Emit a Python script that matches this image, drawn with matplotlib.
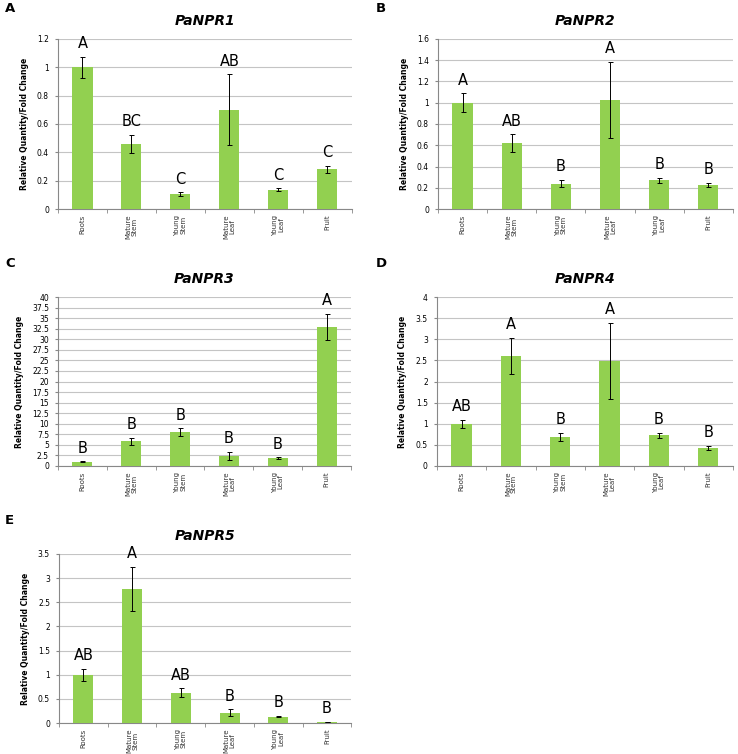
import matplotlib.pyplot as plt
import numpy as np

# tissue categories (shared by all panels)
tissues = ['Roots', 'Mature\nStem', 'Young\nStem', 'Mature\nLeaf', 'Young\nLeaf', 'Fruit']

# PaNPR1
npr1_mean = [1.0, 0.46, 0.105, 0.70, 0.137, 0.28]
npr1_err = [0.075, 0.065, 0.012, 0.25, 0.01, 0.025]
npr1_sig = ['A', 'BC', 'C', 'AB', 'C', 'C']

# PaNPR2
npr2_mean = [1.0, 0.62, 0.24, 1.025, 0.27, 0.225]
npr2_err = [0.09, 0.085, 0.037, 0.36, 0.022, 0.02]
npr2_sig = ['A', 'AB', 'B', 'A', 'B', 'B']

# PaNPR3
npr3_mean = [1.0, 5.8, 8.0, 2.45, 1.9, 32.9]
npr3_err = [0.12, 0.85, 0.95, 0.95, 0.15, 3.15]
npr3_sig = ['B', 'B', 'B', 'B', 'B', 'A']

# PaNPR4
npr4_mean = [1.0, 2.61, 0.69, 2.49, 0.73, 0.43]
npr4_err = [0.1, 0.43, 0.1, 0.9, 0.06, 0.05]
npr4_sig = ['AB', 'A', 'B', 'A', 'B', 'B']

# PaNPR5
npr5_mean = [1.0, 2.77, 0.63, 0.21, 0.13, 0.02]
npr5_err = [0.12, 0.46, 0.09, 0.075, 0.015, 0.005]
npr5_sig = ['AB', 'A', 'AB', 'B', 'B', 'B']

bar_color = '#92D050'
grid_color = '#c4c4c4'

fig = plt.figure(figsize=(7.38, 7.54), dpi=100)


def panel(rect, title, means, errs, sig, ymax, ystep):
    ax = fig.add_axes(rect)
    x = np.arange(len(tissues))
    ax.bar(x, means, width=0.41, color=bar_color, zorder=3)
    ax.errorbar(x, means, yerr=errs, fmt='none', ecolor='black',
                elinewidth=0.7, capsize=1.8, capthick=0.7, zorder=4)

    # significance letters above the error bars
    for xi, m, e, s in zip(x, means, errs, sig):
        ax.annotate(s, (xi, m + e), xytext=(0, 4), textcoords='offset points',
                    ha='center', va='bottom', fontsize=10.5)

    ticks = np.arange(0, ymax + ystep / 2, ystep)
    ax.set_ylim(0, ymax)
    ax.set_yticks(ticks)
    ax.set_yticklabels([f'{t:g}' for t in ticks], fontsize=5.5)
    ax.yaxis.grid(True, color=grid_color, linewidth=0.8, zorder=0)

    ax.set_xlim(-0.5, len(tissues) - 0.5)
    ax.set_xticks(x)
    ax.set_xticklabels(tissues, rotation=90, fontsize=5, linespacing=1.0,
                       color='#333333')
    ax.set_xticks(np.arange(-0.5, len(tissues)), minor=True)
    ax.tick_params(axis='x', which='major', length=0, pad=4)
    ax.tick_params(axis='x', which='minor', length=3, color='#888888')
    ax.tick_params(axis='y', length=2.5, color='#888888', pad=4)

    for side in ['top', 'right']:
        ax.spines[side].set_visible(False)
    for side in ['left', 'bottom']:
        ax.spines[side].set_color('#888888')
        ax.spines[side].set_linewidth(0.8)

    ax.set_ylabel('Relative Quantity/Fold Change', fontsize=5.5, fontweight='bold',
                  labelpad=6)
    ax.set_title(title, fontsize=10, fontweight='bold', style='italic', pad=10)
    return ax


panel([0.0786, 0.7228, 0.398, 0.2255], 'PaNPR1', npr1_mean, npr1_err, npr1_sig, 1.2, 0.2)
panel([0.5935, 0.7228, 0.3995, 0.2255], 'PaNPR2', npr2_mean, npr2_err, npr2_sig, 1.6, 0.2)
panel([0.0786, 0.382, 0.397, 0.224], 'PaNPR3', npr3_mean, npr3_err, npr3_sig, 40, 2.5)
panel([0.592, 0.382, 0.401, 0.224], 'PaNPR4', npr4_mean, npr4_err, npr4_sig, 4, 0.5)
panel([0.080, 0.0411, 0.396, 0.2242], 'PaNPR5', npr5_mean, npr5_err, npr5_sig, 3.5, 0.5)

# panel letters
for lbl, fx, fy in [('A', 5, 8), ('B', 376, 8), ('C', 5, 263), ('D', 376, 263), ('E', 5, 520)]:
    fig.text(fx / 738, 1 - fy / 754, lbl, fontsize=9.5, fontweight='bold', va='center')

plt.savefig('out.png', dpi=100)
